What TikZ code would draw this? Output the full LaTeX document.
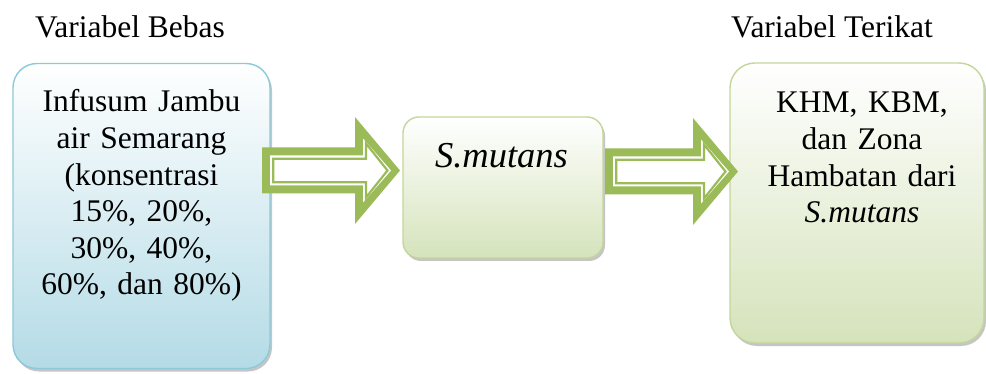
\documentclass[tikz,border=0pt]{standalone}
\usepackage{fontspec}
\setmainfont{Liberation Serif}
\usetikzlibrary{calc,shadows}
\definecolor{arrgreen}{RGB}{155,187,89}
\definecolor{blueedge}{RGB}{140,202,218}
\definecolor{bluefill}{RGB}{180,219,230}
\definecolor{greenedge}{RGB}{195,214,155}
\definecolor{greenfill}{RGB}{213,227,187}
\newcommand\blockarrow[2]{%
  \fill[arrgreen] ($(#1)+(0,23)$) -- ($(#2)+(-45,23)$) -- ($(#2)+(-45,53.5)$) -- (#2)
    -- ($(#2)+(-45,-53.5)$) -- ($(#2)+(-45,-23)$) -- ($(#1)+(0,-23)$) -- cycle;
  \fill[white] ($(#1)+(8,15)$) -- ($(#2)+(-37,15)$) -- ($(#2)+(-37,32)$) -- ($(#2)+(-9,0)$)
    -- ($(#2)+(-37,-32)$) -- ($(#2)+(-37,-15)$) -- ($(#1)+(8,-15)$) -- cycle;
  \draw[arrgreen,line width=2.2pt,line join=miter] ($(#1)+(11.2,11.8)$) -- ($(#2)+(-34,11.8)$) -- ($(#2)+(-34,27)$) -- ($(#2)+(-12.5,0)$)
    -- ($(#2)+(-34,-27)$) -- ($(#2)+(-34,-11.8)$) -- ($(#1)+(11.2,-11.8)$) -- cycle;
}
\tikzset{
  box/.style={rectangle, line width=1.4pt, inner sep=0pt,
    drop shadow={shadow xshift=2pt, shadow yshift=-3pt, fill=black!45}},
  bluebox/.style={box, draw=blueedge, top color=white, bottom color=bluefill},
  greenbox/.style={box, draw=greenedge, top color=white, bottom color=greenfill},
  txt/.style={inner sep=0pt, text width=250pt, align=center, font=\fontsize{31.5}{36.6}\selectfont},
  title/.style={inner sep=0pt, font=\fontsize{31.5}{36}\selectfont}
}
\begin{document}
\begin{tikzpicture}[x=1pt,y=1pt]
\useasboundingbox (0,0) rectangle (986,-374);
\fill[white] (0,0) rectangle (986,-374);
\node[title, anchor=base] (tb) at (130,-38) {Variabel Bebas};
\node[title, anchor=base] (tt) at (832,-38) {Variabel Terikat};
\node[bluebox, rounded corners=24pt, minimum width=257pt, minimum height=305pt] (b1) at (141.5,-216) {};
\node[txt, anchor=base] (t1) at (141.5,-112) {Infusum Jambu\\air Semarang\\(konsentrasi\\15\%, 20\%,\\30\%, 40\%,\\60\%, dan 80\%)};
\node[greenbox, rounded corners=16pt, minimum width=200pt, minimum height=141pt] (b2) at (503,-187.5) {};
\node[inner sep=0pt, anchor=base, font=\fontsize{36.5}{40}\selectfont\itshape] (t2) at (501.5,-168) {S.mutans};
\node[greenbox, rounded corners=25pt, minimum width=254pt, minimum height=280pt] (b3) at (857,-203) {};
\node[txt, anchor=base] (t3) at (862,-113) {KHM, KBM,\\dan Zona\\Hambatan dari\\\textit{S.mutans}};
\coordinate (a1s) at (262,-170.5);
\coordinate (a1t) at (400,-170.5);
\coordinate (a2s) at (605,-171.5);
\coordinate (a2t) at (738,-171.5);
\blockarrow{a1s}{a1t}
\blockarrow{a2s}{a2t}
\end{tikzpicture}
\end{document}
